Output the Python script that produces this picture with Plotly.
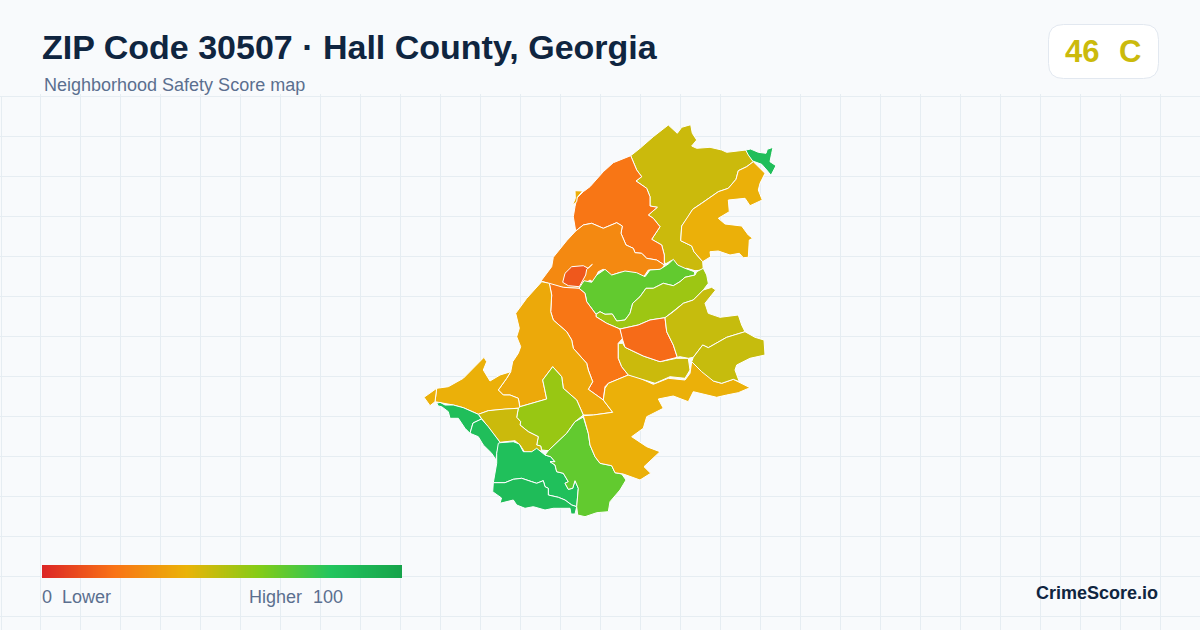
import plotly.graph_objects as go
from plotly.colors import sample_colorscale

# ---- text ----
TITLE = "ZIP Code 30507 · Hall County, Georgia"
SUBTITLE = "Neighborhood Safety Score map"
SCORE = "46"
GRADE = "C"
BRAND = "CrimeScore.io"
SCALE_LOW = "0"
SCALE_LOW_LABEL = "Lower"
SCALE_HIGH = "100"
SCALE_HIGH_LABEL = "Higher"

# ---- score scale ----
scale_stops = [0, 20, 40, 60, 80, 100]
scale_colors = ["#dc2626", "#f97316", "#eab308", "#84cc16", "#22c55e", "#16a34a"]
scale_ramp = [0, 10, 20, 30, 40, 50, 60, 70, 80, 90, 100]

# ---- neighbourhood outlines, in map units, with their scores ----
ne_corner = [(745.7,150),(750.7,149),(758.3,152.3),(766,153.3),(767.3,149.3),(773,147.3),(771.7,153.3),(770,161.7),(776,165.7),(771,175.3),(766.7,170),(761.7,164.3),(752.7,161),(748.3,155)]
north = [(630.7,155.7),(640,148.3),(653.3,136.7),(668.3,125),(677.3,133.3),(681.7,127.3),(690.7,124.7),(692.3,133.3),(696.7,140),(691.7,146),(696.7,148.3),(710,147.3),(721.7,150),(726.7,152.3),(746,150),(748.3,153.3),(753.3,161.7),(746.7,166.7),(738.3,170.7),(736,179.3),(728.3,188.3),(718.3,191.7),(710,197.3),(701.7,203.3),(692.7,209.3),(688.3,216.7),(681.7,226),(680.7,240.7),(691.7,246),(694,251.7),(702.7,261.7),(703.3,270),(695,270.7),(686.7,268.3),(681.7,270),(676.7,265),(672.3,260),(666.7,263.3),(664.3,263.3),(664.3,255),(661.7,245),(651.7,239.3),(660,226.7),(653.3,218.3),(648.3,215),(657.3,207.3),(650,206),(650,196.7),(646.7,188.3),(636,181),(641.7,176.7),(636.7,170)]
north_east = [(753.3,161.7),(758.3,166.7),(765,173.3),(760,183.3),(758.3,190),(762.3,200),(750,205.7),(745,198.3),(728.3,200),(729.3,211.7),(718.3,218.3),(725,224),(741.7,226),(748.3,235),(752.7,238.3),(749.3,240),(748.3,257.3),(743.3,257.7),(739.3,253.3),(730,255),(718.3,251),(710,251.7),(710.7,256.7),(702.7,261.7),(694,251.7),(691.7,246),(680.7,240.7),(681.7,226),(688.3,216.7),(692.7,209.3),(701.7,203.3),(710,197.3),(718.3,191.7),(728.3,188.3),(736,179.3),(738.3,170.7),(746.7,166.7)]
north_west = [(630.7,155.7),(613.3,162.7),(603.3,171.7),(590,186.7),(583.3,191.7),(576.7,198.3),(575,206.7),(573.3,216.7),(575.7,231),(583.3,225),(591.7,223.3),(603.3,228.3),(616.7,222.7),(622.3,226),(621,233.3),(626,245),(633.3,248.3),(635,252.7),(641.7,253.3),(646.7,258.3),(656.7,260),(664.3,265),(664.3,255),(661.7,245),(651.7,239.3),(660,226.7),(653.3,218.3),(648.3,215),(657.3,207.3),(650,206),(650,196.7),(646.7,188.3),(636,181),(641.7,176.7),(636.7,170)]
nw_sliver = [(575,190.7),(582.7,191),(577.3,197.3),(576.7,201.7),(572.3,205.7),(575.3,198.3)]
upper_mid = [(575.7,231),(566.7,240.7),(553.3,257.3),(551.7,266.7),(541,281),(548.3,283.3),(551.7,286.7),(578.3,288.3),(590,280),(593.3,282.3),(598.3,271.7),(603.3,269.3),(610,275.7),(620,272.3),(630,272.3),(636.7,274.3),(642.7,278.3),(648.3,270),(661.7,269.3),(664.3,265),(656.7,260),(646.7,258.3),(641.7,253.3),(635,252.7),(633.3,248.3),(626,245),(621,233.3),(622.3,226),(616.7,222.7),(603.3,228.3),(591.7,223.3),(583.3,225)]
small_round = [(563.3,280),(565,273.3),(571.7,266.7),(583.3,265.7),(588.3,268.3),(592.3,264.3),(586.7,269.3),(585.7,275),(579.3,286.7),(568.3,285.7),(562.7,282.3)]
lime_north = [(579,288.3),(584,280.7),(591.7,282.3),(596.7,275),(605,269.3),(611.7,275),(625,271),(636.7,272.7),(645,276.7),(650,270),(660,269.3),(668.3,264),(673.3,259.3),(677.7,265),(685,268.3),(694.3,271.7),(695,275),(685,277.3),(680,281.7),(673.3,285.7),(663.3,283.3),(653.3,288.3),(646,288.3),(640,296.7),(632.7,303.3),(630,313.3),(625,320),(616.7,321),(612.3,314),(605,314.3),(600,311.7),(596,314.3),(586.7,301.7),(585,293.3)]
lime_band = [(596,314.3),(600,311.7),(605,314.3),(612.3,314),(616.7,321),(625,320),(630,313.3),(632.7,303.3),(640,296.7),(646,288.3),(653.3,288.3),(663.3,283.3),(673.3,285.7),(680,281.7),(685,277.3),(695,275),(696.7,271.7),(703.3,268.3),(706.7,275),(708.3,283.3),(703.3,290),(693.3,300),(683.3,303.3),(673.3,311.7),(665,317.7),(650,320),(638.3,325),(620,329),(606.7,323.3),(596,316.7)]
center_long = [(549.3,283.3),(563.3,287.3),(579,288.3),(585,293.3),(586.7,301.7),(596,314.3),(596,316.7),(606.7,323.3),(620,329),(622.7,338.3),(618.3,343.3),(618.3,358.3),(621.7,366.7),(628.3,375),(608.3,383.3),(605,386.7),(603.3,400),(588.3,389.3),(592.7,381.7),(588.3,370),(586.7,363.3),(573.3,348.3),(571.7,340),(566.7,331.7),(553.3,320),(550.7,311.7),(551.7,295)]
west_mid = [(541.7,281.7),(526.7,298.3),(515.7,313.3),(519.3,328.3),(516.7,336.7),(520.7,346.7),(518.3,353.3),(512.7,361.7),(510.7,371.7),(506.7,378.3),(498.3,390),(503.3,395),(510,395),(518.3,398.3),(520,406.7),(546.7,399),(542.7,380),(552.7,366.7),(561.7,376.7),(563.3,388.3),(576.7,400),(583.3,415),(593.3,415),(612.7,412.3),(603.3,400),(588.3,389.3),(592.7,381.7),(588.3,370),(586.7,363.3),(573.3,348.3),(571.7,340),(566.7,331.7),(553.3,320),(550.7,311.7),(551.7,295),(549.3,283.3)]
west_wing = [(436.7,388.3),(448.3,386.7),(463.3,378.3),(475,366.7),(484,357.3),(486.7,361.7),(483.3,370),(490,381),(500,375),(510.7,371.7),(506.7,378.3),(498.3,390),(503.3,395),(510,395),(518.3,398.3),(520,408),(505,409),(488.3,410.7),(478.3,414.3),(463.3,407.7),(453.3,405),(440,402.3),(435,401.7)]
west_tip = [(424,397.3),(436.7,388.3),(435,401.7),(430,405.7)]
central_lime = [(552.7,366.7),(561.7,376.7),(563.3,388.3),(576.7,400),(583.3,415),(575,421.7),(566.7,433.3),(548.3,450.7),(541.7,450),(540.7,446),(536.7,445),(538.3,436.7),(528.3,431.7),(520,425),(520.7,421.7),(516.7,417.3),(518.3,408.3),(520,406.7),(546.7,399),(542.7,380)]
south_olive = [(478.3,414.3),(488.3,410.7),(505,409),(518.3,408.3),(516.7,417.3),(520.7,421.7),(520,425),(528.3,431.7),(538.3,436.7),(536.7,445),(540.7,446),(541.7,450.7),(535,451.7),(525,452.7),(520,445),(515,440.7),(500,442.3),(488.3,426.7)]
sw_strip = [(436.7,403.3),(440,402.3),(445,405),(453.3,405),(463.3,407.7),(478.3,414.3),(481.5,419),(473,423),(470,433.3),(465,428.3),(458.3,418.3),(450,418.3),(448.3,411.7),(441.7,406.7),(438.3,406)]
sw_strip_two = [(481.5,419),(488.3,426.7),(500,442.3),(496.7,453.3),(496,460),(491.7,453.3),(483.3,445),(478.3,436.7),(470,433.3),(473,423)]
south_green = [(498.3,443.3),(496.7,453.3),(496.7,463.3),(495,473.3),(493.3,482.7),(505,482.7),(513.3,479.3),(521.7,478.3),(531.7,481.7),(536.7,483.3),(543.3,480.7),(545,486.7),(548.3,488.3),(548.3,495),(558.3,497.3),(565,500),(571.7,505),(576.7,506.7),(578.3,488.3),(575,480.7),(572.7,488.3),(568.3,489.3),(565,483.3),(568.3,481.7),(563.3,473.3),(556.7,471.7),(555,465),(550,461.7),(555,461.7),(550.7,456.7),(545,455),(536.7,448.3),(531.7,451.7),(523.3,451.7),(519.3,444),(513.3,441.7),(500,442.7)]
south_edge = [(493.3,482.7),(505,482.7),(513.3,479.3),(521.7,478.3),(531.7,481.7),(536.7,483.3),(543.3,480.7),(545,486.7),(548.3,488.3),(548.3,495),(558.3,497.3),(565,500),(571.7,505),(576.7,506.7),(575,514),(571,514),(570,508.3),(553.3,508.3),(545,510),(533.3,506.7),(525,508.3),(516.7,505),(513.3,500),(500,503.3),(501.5,498),(492.7,491.7)]
south_lime = [(583.3,417),(588.3,433.3),(590,445),(595,456.7),(600,463.3),(611.7,465.7),(615,472.7),(621.7,474),(626,480),(620,490),(610,501.7),(608.3,511.7),(596.7,512.7),(585,516.7),(577.7,515),(576.7,506.7),(578.3,488.3),(575,480.7),(572.7,488.3),(568.3,489.3),(565,483.3),(568.3,481.7),(563.3,473.3),(556.7,471.7),(555,465),(550,461.7),(555,461.7),(550.7,456.7),(545,455),(548.3,450.7),(566.7,433.3),(575,421.7)]
south_big = [(583.3,415.7),(588.3,433.3),(590,445),(595,456.7),(600,463.3),(611.7,465.7),(615,472.7),(623.3,474),(640,480),(650.7,473.3),(644,466.7),(660,451.7),(646.7,446.7),(631.7,436.7),(643.3,428.3),(646.7,416.7),(663.3,408.3),(658.3,399),(673.3,396),(688.3,401.7),(693.3,391.7),(706.7,395),(716.7,397.3),(726.7,395),(738.3,392.7),(750,387.7),(738.3,381.7),(733.3,379.3),(721.7,383.3),(713.3,381),(706.7,371.7),(691.7,361.7),(690,373.3),(685,380),(668.3,378.3),(653.3,384.3),(636.7,376.7),(628.3,375),(608.3,383.3),(605,388.3),(603.3,400),(612.7,412.3),(593.3,415)]
center_olive = [(618.3,343.3),(622.7,343.3),(625,347.3),(643.3,356),(660,361.7),(676.7,358.3),(688.3,358.3),(690,370),(685,378.3),(670,376.7),(655,383.3),(628.3,375),(621.7,366.7),(618.3,358.3)]
center_red = [(620,329),(638.3,325),(650,320),(665,317.7),(666.7,331.7),(673.3,345),(677.3,357.3),(660,361.7),(643.3,356),(625,347.3),(622.7,340)]
east_upper = [(665,317.7),(673.3,311.7),(683.3,303.3),(693.3,300),(703.3,290),(711.7,287.3),(715.7,290),(705,303.3),(708.3,313.3),(720,317.3),(738.3,315),(741.7,325),(745,331.7),(726.7,337.3),(708.3,347.7),(702.7,345),(693.3,357.3),(688.3,358.3),(680,356.7),(677.3,357.3),(673.3,345),(666.7,331.7)]
east_lower = [(745,331.7),(755,337.3),(764,340),(765,355),(750,358.3),(736.7,365),(735,370),(739.3,381.7),(733.3,379.3),(721.7,383.3),(713.3,381),(701.7,371.7),(691.7,361.7),(693.3,357.3),(702.7,345),(708.3,347.7),(726.7,337.3)]

tracts = [north, north_east, north_west, nw_sliver, upper_mid, lime_north, lime_band, center_long,
          west_mid, west_wing, west_tip, central_lime, south_olive, sw_strip, sw_strip_two,
          south_green, south_edge, south_lime, south_big, center_olive, center_red, east_upper,
          east_lower, small_round, ne_corner]
tract_scores = [46, 39, 21, 38, 27, 67, 55, 21,
                37, 39, 39, 56, 46, 84, 84,
                83, 85, 67, 39, 46, 18, 47,
                47, 13, 84]

# ---- picture constants ----
W, H = 1200, 630
GRID_TOP = 94
BG = "#f8fafc"
GRID = "#e6edf2"
NAVY = "#0f2540"
SLATE = "#5b6f8f"
BADGE_COLOR = "#cbba0c"
FONT = "Liberation Sans, Arial, sans-serif"

colorscale = [[s / 100, c] for s, c in zip(scale_stops, scale_colors)]


def px(x):
    return x / W


def py(y):
    return 1 - y / H


fig = go.Figure()

for pts, score in zip(tracts, tract_scores):
    xs = [p[0] for p in pts] + [pts[0][0]]
    ys = [p[1] for p in pts] + [pts[0][1]]
    fig.add_trace(go.Scatter(
        x=xs, y=ys, mode="lines", fill="toself",
        fillcolor=sample_colorscale(colorscale, score / 100, colortype="rgb")[0],
        line=dict(color="#ffffff", width=1),
        hoverinfo="skip", showlegend=False,
    ))

fig.add_trace(go.Heatmap(
    x=scale_ramp, y=[0, 1], z=[scale_ramp, scale_ramp],
    xaxis="x2", yaxis="y2", zmin=0, zmax=100, zsmooth="best",
    colorscale=colorscale, showscale=False, hoverinfo="skip",
))


def text(x, y, s, size, color, anchor="left", bold=False):
    fig.add_annotation(
        xref="paper", yref="paper", x=px(x), y=py(y), text=f"<b>{s}</b>" if bold else s,
        showarrow=False, xanchor=anchor, yanchor="middle", align=anchor,
        font=dict(family=FONT, size=size, color=color),
        borderpad=0, borderwidth=0,
    )


text(42, 47, TITLE, 34, NAVY, bold=True)
text(44, 85, SUBTITLE, 18, SLATE)
text(1065, 51, SCORE, 31, BADGE_COLOR, bold=True)
text(1119, 51, GRADE, 31, BADGE_COLOR, bold=True)
text(42, 597, SCALE_LOW, 18, SLATE)
text(62, 597, SCALE_LOW_LABEL, 18, SLATE)
text(249, 597, SCALE_HIGH_LABEL, 18, SLATE)
text(313, 597, SCALE_HIGH, 18, SLATE)
text(1158, 593, BRAND, 18, NAVY, anchor="right", bold=True)

# rounded score badge
l, r, t, b, rad = 1048.5, 1158.5, 24.5, 78.5, 15
path = (f"M {px(l+rad)} {py(t)} L {px(r-rad)} {py(t)} Q {px(r)} {py(t)} {px(r)} {py(t+rad)} "
        f"L {px(r)} {py(b-rad)} Q {px(r)} {py(b)} {px(r-rad)} {py(b)} "
        f"L {px(l+rad)} {py(b)} Q {px(l)} {py(b)} {px(l)} {py(b-rad)} "
        f"L {px(l)} {py(t+rad)} Q {px(l)} {py(t)} {px(l+rad)} {py(t)} Z")
fig.add_shape(type="path", xref="paper", yref="paper", path=path,
              fillcolor="#ffffff", line=dict(color="#e2e8f0", width=1), layer="below")
# the grid's first column sits on the plot edge, where plotly drops its own gridline
fig.add_shape(type="line", xref="paper", yref="paper", x0=px(1.5), x1=px(1.5), y0=0, y1=py(96),
              line=dict(color=GRID, width=1), layer="below")

fig.update_layout(
    width=W, height=H, autosize=False,
    margin=dict(l=0, r=0, t=0, b=0, pad=0),
    paper_bgcolor=BG, plot_bgcolor="rgba(0,0,0,0)",
    showlegend=False,
    xaxis=dict(domain=[0, 1], range=[0, W], tick0=0.5, dtick=40, showgrid=True, gridcolor=GRID,
               gridwidth=1, zeroline=False, showticklabels=False, ticks="", fixedrange=True),
    yaxis=dict(domain=[0, py(GRID_TOP)], range=[H, GRID_TOP], tick0=96.5, dtick=40, showgrid=True,
               gridcolor=GRID, gridwidth=1, zeroline=False, showticklabels=False, ticks="",
               fixedrange=True),
    xaxis2=dict(domain=[px(42), px(402)], range=[0, 100], anchor="y2", visible=False, fixedrange=True),
    yaxis2=dict(domain=[py(578), py(565)], range=[0, 1], anchor="x2", visible=False, fixedrange=True),
)

fig.write_html(
    "out.html",
    config=dict(displayModeBar=False),
    post_script="document.body.style.margin='0';document.body.style.overflow='hidden';",
)
